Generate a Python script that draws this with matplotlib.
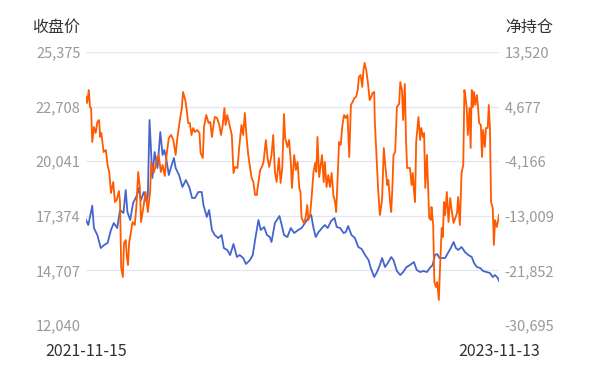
import numpy as np
import pandas as pd
import matplotlib
matplotlib.use("Agg")
import matplotlib.pyplot as plt

plt.rcParams['font.family'] = ['Noto Sans CJK SC', 'DejaVu Sans']

start = pd.Timestamp("2021-11-15")
end = pd.Timestamp("2023-11-13")

# close price: days since start, value
close_day = [0, 4, 7, 11, 14, 20, 26, 32, 38, 44, 49, 55, 60, 66, 70, 73, 78, 83, 90, 93,
             97, 102, 107, 109, 112, 117, 121, 126, 131, 135, 138, 141, 146, 150, 155, 158, 164, 170, 176, 182,
             187, 192, 198, 204, 207, 213, 217, 222, 227, 233, 239, 243, 249, 254, 260, 266, 271, 277, 282, 289,
             294, 298, 304, 308, 314, 319, 324, 327, 333, 341, 345, 349, 355, 361, 367, 374, 380, 386, 392, 397,
             401, 405, 410, 416, 421, 426, 432, 438, 442, 448, 454, 458, 462, 468, 474, 480, 486, 492, 498, 502,
             508, 513, 518, 522, 527, 532, 538, 542, 548, 554, 559, 565, 571, 578, 583, 589, 595, 601, 606, 611,
             615, 619, 623, 629, 633, 639, 643, 648, 652, 656, 662, 668, 674, 680, 684, 689, 695, 700, 706, 712,
             717, 721, 726, 728]
close_val = [17168, 16924, 17315, 17867, 16777, 16435, 15800, 15947, 16045, 16680, 17022, 16777, 17657, 17510, 18634, 17559, 17168, 17999, 18389, 18731,
             18145, 18536, 18047, 18389, 22053, 19220, 20490, 19708, 21467, 20343, 20588, 20246, 19366, 19757, 20197, 19708, 19366, 18780, 19122, 18780,
             18243, 18243, 18536, 18536, 17901, 17315, 17657, 16680, 16435, 16289, 16435, 15800, 15703, 15458, 15996, 15361, 15458, 15312, 15019, 15214,
             15458, 16191, 17168, 16680, 16826, 16435, 16338, 16093, 17022, 17364, 16924, 16435, 16338, 16777, 16533, 16680, 16777, 17022, 17266, 17412,
             16777, 16338, 16582, 16777, 16924, 16777, 17119, 17266, 16826, 16777, 16533, 16582, 16875, 16435, 16289, 15849, 15752, 15458, 15214, 14823,
             14384, 14628, 14970, 15312, 14872, 15068, 15361, 15214, 14677, 14481, 14628, 14872, 14970, 15116, 14726, 14628, 14677, 14628, 14823, 14970,
             15458, 15507, 15312, 15312, 15312, 15605, 15800, 16093, 15800, 15703, 15849, 15605, 15458, 15361, 15068, 14872, 14823, 14677, 14628, 14579,
             14384, 14481, 14335, 14188]

# net position: days since start, value
pos_day = [0, 2, 5, 7, 9, 11, 14, 17, 20, 23, 25, 27, 31, 35, 38, 41, 44, 48, 51, 54,
           58, 60, 62, 65, 67, 70, 72, 74, 76, 79, 82, 86, 89, 92, 95, 97, 101, 105, 109, 113,
           115, 119, 122, 125, 128, 132, 135, 139, 142, 146, 150, 154, 158, 161, 166, 169, 171, 175, 178, 180,
           183, 186, 189, 192, 196, 200, 202, 206, 208, 212, 216, 219, 222, 224, 227, 231, 235, 238, 241, 244,
           246, 249, 253, 257, 260, 263, 267, 270, 274, 277, 280, 283, 286, 289, 292, 295, 298, 301, 304, 307,
           310, 313, 317, 320, 323, 327, 330, 333, 336, 340, 343, 346, 349, 351, 355, 358, 361, 363, 367, 370,
           373, 376, 378, 380, 384, 387, 390, 392, 395, 398, 401, 404, 406, 408, 411, 413, 416, 419, 421, 424,
           427, 430, 433, 436, 439, 441, 444, 446, 449, 452, 455, 458, 461, 464, 467, 470, 473, 476, 479, 481,
           484, 487, 489, 491, 494, 497, 500, 502, 505, 508, 509, 512, 515, 518, 520, 522, 525, 528, 531, 533,
           536, 538, 540, 542, 545, 548, 552, 554, 557, 559, 562, 564, 566, 571, 574, 576, 578, 580, 582, 586,
           589, 591, 594, 596, 598, 601, 603, 605, 608, 609, 612, 614, 617, 619, 622, 624, 627, 629, 631, 633,
           636, 639, 642, 645, 648, 651, 654, 656, 659, 662, 665, 667, 669, 671, 673, 676, 678, 680, 682, 684,
           686, 689, 691, 693, 696, 698, 700, 703, 705, 708, 710, 712, 714, 717, 719, 721, 724, 726, 728]
pos_val = [6280, 5260, 7366, 4612, 4450, -1056, 1373, 401, 2183, 2507, -247, 401, -2676, -2352, -4781, -5915, -9316, -7535, -10774, -10450,
           -8992, -10774, -21463, -22921, -17414, -16928, -19682, -20977, -17414, -15795, -14013, -14499, -11260, -5915, -8507, -14013, -11746, -9154, -12394, -9154,
           -4296, -6077, -5267, -3648, -3162, -5915, -4781, -6563, -3162, -409, 77, -732, -3162, -409, 2831, 4450, 7042, 5746, 3802, 2021,
           2021, 77, 1211, 563, 887, 401, -2838, -3648, 1373, 3317, 2021, 2183, -247, 1211, 2993, 2831, 1697, 77, 1697, 4450,
           1697, 3317, 1697, 77, -6077, -5105, -5267, -2028, 1697, 77, 3640, -247, -3162, -5105, -6887, -7535, -9640, -9640, -7535, -5591,
           -5105, -4296, -732, -3648, -5105, -3162, 77, -5915, -7535, -3648, -7697, -5267, 3478, -409, -1866, -732, -4296, -8507, -3162, -5591,
           -4296, -8507, -9154, -13365, -14175, -13365, -11260, -13689, -12879, -9640, -5915, -4458, -5915, -247, -6725, -5267, -3162, -7535, -4296, -8345,
           -6401, -8345, -6077, -9640, -10774, -12394, -5915, -1056, -1542, 1697, 3317, 2831, 3317, -3486, 4936, 5422, 6070, 6232, 7366, 9471,
           9795, 7851, 10605, 11738, 10605, 8499, 5746, 6070, 6880, 7042, 2507, -3162, -8830, -12879, -11746, -10126, -2028, -5267, -8021, -7211,
           -10774, -12394, -8507, -3162, -2676, 4612, 5098, 8661, 7300, 2507, 8337, -409, -5267, -5267, -8021, -6077, -8830, -10774, -1056, 2993,
           -732, 1211, -247, 401, -8507, -3162, -8507, -13365, -13689, -11584, -14499, -23731, -24541, -23731, -26646, -21463, -14985, -16443, -10774, -12879,
           -9154, -14013, -10126, -12394, -14175, -13365, -12556, -9964, -14499, -6077, -4781, 7366, 6070, 4612, 77, 4450, -2028, 7366, 4612, 7042,
           4936, 6556, 4612, 2021, 1697, -3486, 887, -1866, 1211, 1211, 4936, 1211, -10774, -11746, -17738, -13689, -14823, -14013, -12879]

left_ticks = [12040, 14707, 17374, 20041, 22708, 25375]
right_ticks = [-30695, -21852, -13009, -4166, 4677, 13520]

close_dates = start + pd.to_timedelta(close_day, unit="D")
pos_dates = start + pd.to_timedelta(pos_day, unit="D")

fig = plt.figure(figsize=(6.06, 3.67), dpi=100)
ax = fig.add_axes([86 / 606, 42 / 367, 413 / 606, 273 / 367])
ax2 = ax.twinx()

ax.plot(close_dates, close_val, color="#4565cc", lw=1.3, zorder=3)
ax2.plot(pos_dates, pos_val, color="#ff5a00", lw=1.3, zorder=3)

ax.set_ylim(left_ticks[0], left_ticks[-1])
ax2.set_ylim(right_ticks[0], right_ticks[-1])
ax.set_xlim(start, end)
ax.set_yticks(left_ticks)
ax.set_yticklabels([f"{t:,}" for t in left_ticks])
ax2.set_yticks(right_ticks)
ax2.set_yticklabels([f"{t:,}" for t in right_ticks])
ax.set_xticks([start, end])
ax.set_xticklabels(["2021-11-15", "2023-11-13"])

ax.grid(axis="y", color="#e3e7f0", lw=0.9)
ax.set_axisbelow(True)
for a in (ax, ax2):
    for s in a.spines.values():
        s.set_visible(False)
ax.tick_params(axis="y", length=0, pad=4, labelsize=10.5, labelcolor="#999999")
ax2.tick_params(axis="y", length=0, pad=4, labelsize=10.5, labelcolor="#999999")
ax.tick_params(axis="x", length=0, pad=13, labelsize=11.5, labelcolor="#333333")

fig.text(80 / 606, 1 - 27 / 367, "收盘价", ha="right", va="center", fontsize=11.5, color="#333333")
fig.text(505 / 606, 1 - 27 / 367, "净持仓", ha="left", va="center", fontsize=11.5, color="#333333")

fig.savefig("out.png", dpi=100)
